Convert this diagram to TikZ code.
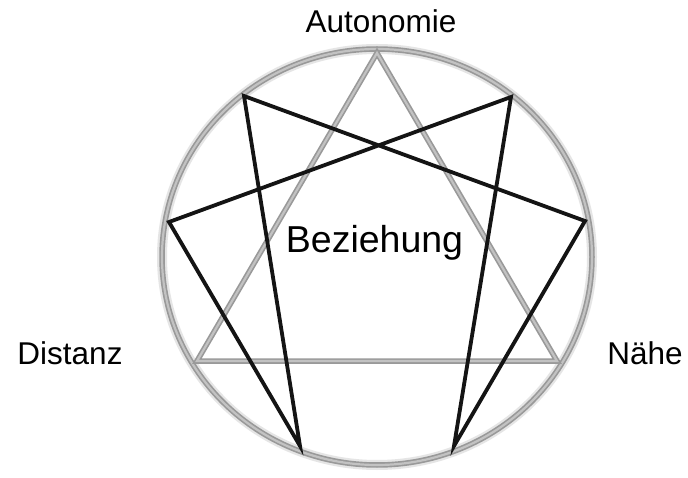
\documentclass[tikz,border=0pt]{standalone}
\usepackage{fontspec}
\setmainfont{Liberation Sans}
\begin{document}
\begin{tikzpicture}[x=1pt,y=-1pt,
  ringout/.style={draw=black!40,line width=5.5pt},
  ringin/.style={draw=black!24,line width=2.2pt},
  shadowline/.style={draw=black!10,line width=10pt},
  hexad/.style={draw=black!92,line width=3.8pt,line join=miter},
  lbl/.style={anchor=base,inner sep=0pt,font=\fontsize{31.5}{38}\selectfont},
  biglbl/.style={anchor=base,inner sep=0pt,font=\fontsize{37.5}{45}\selectfont}]
\useasboundingbox (0,0) rectangle (688,478);
\fill[white] (0,0) rectangle (688,478);
% enneagram points
\coordinate (p9) at (377,53);
\coordinate (p1) at (511,97);
\coordinate (p2) at (585,221);
\coordinate (p3) at (557,361);
\coordinate (p4) at (454,446);
\coordinate (p5) at (300,446);
\coordinate (p6) at (197,361);
\coordinate (p7) at (169,222);
\coordinate (p8) at (244,96);
\coordinate (c) at (377,257);
% soft shadow
\draw[shadowline] (c) ellipse [x radius=215, y radius=208];
% circle
\draw[ringout] (c) ellipse [x radius=215, y radius=208];
\draw[ringin] (c) ellipse [x radius=215, y radius=208];
% triangle
\draw[ringout,line join=miter] (p9) -- (p3) -- (p6) -- cycle;
\draw[ringin,line join=miter] (p9) -- (p3) -- (p6) -- cycle;
% hexad
\draw[hexad] (p1) -- (p4) -- (p2) -- (p8) -- (p5) -- (p7) -- cycle;
% labels
\node[lbl] (auto) at (381,33) {Autonomie};
\node[biglbl] (bez) at (374.5,252.5) {Beziehung};
\node[lbl] (dist) at (70,364) {Distanz};
\node[lbl] (nahe) at (645,364) {Nähe};
\end{tikzpicture}
\end{document}
